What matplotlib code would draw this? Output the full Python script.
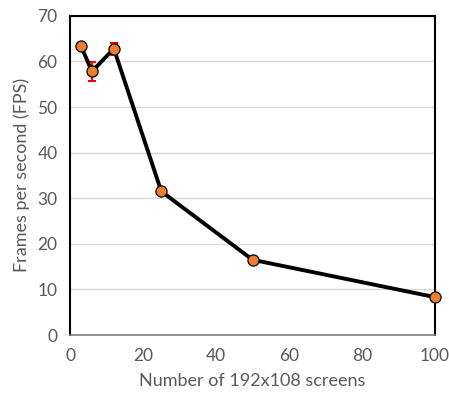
import matplotlib
matplotlib.use("Agg")
import matplotlib.pyplot as plt

screens = [3, 6, 12, 25, 50, 100]
fps = [63.4, 57.8, 62.8, 31.5, 16.5, 8.3]
fps_err = [0.6, 2.0, 1.3, 0.4, 0.3, 0.2]

plt.rcParams['font.family'] = ['Lato', 'DejaVu Sans']

fig = plt.figure(figsize=(4.49, 3.96), dpi=100)
ax = fig.add_axes([0.156, 0.154, 0.813, 0.806])

ax.errorbar(screens, fps, yerr=fps_err, fmt='none', ecolor='red', elinewidth=1.5,
            capsize=3, capthick=1.5, zorder=2)
ax.plot(screens, fps, color='black', linewidth=2.8, marker='o', markersize=8,
        markerfacecolor='#ED7D31', markeredgecolor='black', markeredgewidth=0.9,
        zorder=3, clip_on=False)

ax.set_xlim(0, 100)
ax.set_ylim(0, 70)
ax.set_xticks(range(0, 101, 20))
ax.set_yticks(range(0, 71, 10))
ax.yaxis.grid(True, color='#d9d9d9', linewidth=1)
ax.set_axisbelow(True)
for side in ['left', 'top', 'right']:
    ax.spines[side].set_color('black')
    ax.spines[side].set_linewidth(1.5)
ax.spines['bottom'].set_color('#7f7f7f')
ax.spines['bottom'].set_linewidth(1.2)
ax.tick_params(length=0, labelsize=12.5, colors='#595959', pad=9)
ax.set_xlabel('Number of 192x108 screens', fontsize=13, color='#595959', labelpad=7)
ax.set_ylabel('Frames per second (FPS)', fontsize=13, color='#595959', labelpad=5)

plt.savefig('out.png', dpi=100)
